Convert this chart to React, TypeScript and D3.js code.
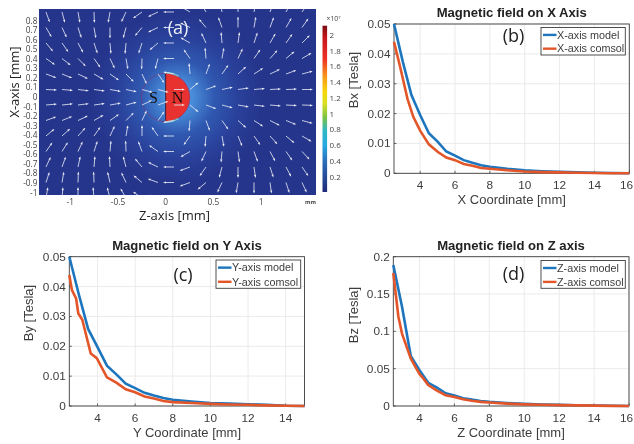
import React from "react";
import * as d3 from "d3";

// ---------- panel (a) data ----------
const zTicks = [-1, -0.5, 0, 0.5, 1];
const xTicks = [0.8, 0.7, 0.6, 0.5, 0.4, 0.3, 0.2, 0.1, 0, -0.1, -0.2, -0.3, -0.4, -0.5, -0.6, -0.7, -0.8, -0.9, -1];
const colorTicks = [2, 1.8, 1.6, 1.4, 1.2, 1, 0.8, 0.6, 0.4, 0.2];
const jetStops: [number, string][] = [
  [0, "#7a0c12"], [0.07, "#c4161c"], [0.2, "#ee3124"], [0.3, "#f7941d"], [0.4, "#f5d90a"],
  [0.47, "#d8e021"], [0.55, "#7dc242"], [0.63, "#2fb7c4"], [0.72, "#27a9e1"], [0.82, "#2b6cb8"], [1, "#1e2a78"],
];
// arrow direction in degrees (0 = right, 90 = up), one row per field row, 17 columns
const fieldAngles: number[][] = [
  [-70, -75, -80, -88, -100, -115, -145, -155, 180, 150, 120, 100, 90, 80, 70, 62, 55],
  [-60, -65, -72, -80, -90, -105, -130, -155, 180, 155, 130, 110, 90, 80, 70, 60, 55],
  [-50, -55, -62, -72, -85, -95, -108, -140, 180, 150, 115, 95, 82, 72, 60, 55, 45],
  [-35, -38, -45, -55, -65, -80, -92, -105, 180, 125, 95, 80, 65, 55, 48, 40, 30],
  [-20, -22, -25, -30, -35, -45, -65, -55, 170, 95, 70, 55, 42, 33, 25, 20, 15],
  [-3, -5, -7, -8, -10, -12, -15, -15, 0, 40, 20, 12, 8, 5, 3, 2, 0],
  [5, 6, 7, 8, 10, 15, 25, 20, 0, -40, -20, -15, -10, -7, -5, -3, -2],
  [20, 22, 25, 30, 35, 45, 65, 55, -170, -95, -70, -55, -42, -33, -27, -22, -15],
  [40, 42, 48, 55, 65, 80, 90, 125, 180, -125, -95, -80, -68, -55, -48, -40, -30],
  [55, 58, 65, 72, 85, 92, 110, 145, 180, -150, -115, -95, -82, -70, -62, -55, -47],
  [65, 70, 78, 85, 93, 105, 130, 155, 180, -160, -125, -105, -90, -82, -72, -62, -55],
  [72, 80, 88, 92, 103, 115, 140, 160, 180, -160, -140, -115, -100, -90, -82, -72, -65],
  [80, 85, 90, 95, 105, 120, 145, 165, 180, -165, -140, -120, -100, -90, -80, -70, -60],
];

// ---------- line panel data ----------
const xModelX = [2.5, 3, 3.5, 4, 4.5, 5, 5.5, 6, 6.5, 7, 7.5, 8, 9, 10, 11, 12, 13, 14, 15, 16];
const bxModel = [0.05, 0.0375, 0.0262, 0.0195, 0.0134, 0.0106, 0.0073, 0.0059, 0.0044, 0.0035, 0.0027, 0.0022, 0.0015, 0.001, 0.0007, 0.0005, 0.0003, 0.0002, 0.0001, 0];
const xComsolX = [2.5, 2.85, 3.27, 3.6, 4, 4.5, 5, 5.5, 6, 6.5, 7, 7.5, 8, 9, 10, 11, 12, 13, 14, 15, 16];
const bxComsol = [0.044, 0.0357, 0.025, 0.019, 0.0143, 0.0097, 0.0072, 0.0053, 0.0044, 0.0031, 0.0025, 0.0018, 0.0015, 0.001, 0.0006, 0.0004, 0.0003, 0.0002, 0.0001, 0, 0];

const yModelX = [2.5, 3, 3.5, 4, 4.5, 5, 5.5, 6, 6.5, 7, 7.5, 8, 9, 10, 11, 12, 13, 14, 15];
const byModel = [0.05, 0.0375, 0.0258, 0.0197, 0.0135, 0.0106, 0.0075, 0.006, 0.0044, 0.0035, 0.0027, 0.0021, 0.0015, 0.001, 0.0008, 0.0006, 0.0004, 0.0001, 0];
const yComsolX = [2.5, 2.64, 2.86, 2.98, 3.19, 3.64, 3.96, 4.5, 5, 5.5, 6, 6.5, 7, 7.5, 8, 9, 10, 11, 12, 13, 14, 15];
const byComsol = [0.0439, 0.0388, 0.036, 0.031, 0.0289, 0.0176, 0.016, 0.0096, 0.0078, 0.0056, 0.0046, 0.0032, 0.0025, 0.0017, 0.0013, 0.001, 0.0007, 0.0005, 0.0004, 0.0002, 0.0001, 0];

const zModelX = [2.5, 3, 3.5, 4, 4.5, 5, 5.5, 6, 6.5, 7, 7.5, 8, 9, 10, 11, 12, 13, 14, 15, 16];
const bzModel = [0.189, 0.133, 0.067, 0.048, 0.031, 0.0245, 0.017, 0.014, 0.0105, 0.0085, 0.0068, 0.0055, 0.004, 0.0028, 0.002, 0.0015, 0.001, 0.0006, 0.0003, 0];
const zComsolX = [2.5, 2.79, 3, 3.5, 3.75, 4, 4.25, 4.5, 5, 5.5, 6, 6.5, 7, 7.5, 8, 9, 10, 11, 12, 13, 14, 15, 16];
const bzComsol = [0.178, 0.12, 0.097, 0.0638, 0.053, 0.043, 0.036, 0.028, 0.0205, 0.0145, 0.012, 0.009, 0.007, 0.0055, 0.0046, 0.0032, 0.0022, 0.0016, 0.0012, 0.0008, 0.0005, 0.0002, 0];

const ticks4to16 = [4, 6, 8, 10, 12, 14, 16];
const ticks4to14 = [4, 6, 8, 10, 12, 14];
const ticks005 = [0, 0.01, 0.02, 0.03, 0.04, 0.05];
const ticks02 = [0, 0.05, 0.1, 0.15, 0.2];

const BLUE = "#1d76bd";
const ORANGE = "#e2562a";
const INK = "#3d3d3d";
const SANS = "'Liberation Sans', Arial, sans-serif";
const NOTO = "'Open Sans', 'Noto Sans', sans-serif";

type PanelProps = {
  left: number; right: number; top: number; bottom: number;
  xDomain: [number, number]; yDomain: [number, number];
  xt: number[]; yt: number[];
  model: [number[], number[]]; comsol: [number[], number[]];
  title: string; xLabel: string; yLabel: string; tag: string;
  names: [string, string];
  titleX: number; titleY: number; xLabelY: number;
  yLabelX: number; yLabelY: number;
  tagX: number; tagY: number;
  legend: [number, number, number, number];
};

function Panel(p: PanelProps) {
  const x = d3.scaleLinear().domain(p.xDomain).range([p.left, p.right]);
  const y = d3.scaleLinear().domain(p.yDomain).range([p.bottom, p.top]);
  const line = d3.line<[number, number]>().x((d) => x(d[0])).y((d) => y(d[1]));
  const pts = (s: [number[], number[]]) => s[0].map((v, i) => [v, s[1][i]] as [number, number]);
  const [lx0, lx1, ly0, ly1] = p.legend;
  const row1 = ly0 + (ly1 - ly0) * 0.27;
  const row2 = ly0 + (ly1 - ly0) * 0.77;
  return (
    <g fontFamily={SANS}>
      <rect x={p.left} y={p.top} width={p.right - p.left} height={p.bottom - p.top} fill="#fff" />
      {p.xt.map((t) => (
        <line key={t} x1={x(t)} x2={x(t)} y1={p.top} y2={p.bottom} stroke="#e6e6e6" strokeWidth={0.8} />
      ))}
      {p.yt.map((t) => (
        <line key={t} x1={p.left} x2={p.right} y1={y(t)} y2={y(t)} stroke="#e6e6e6" strokeWidth={0.8} />
      ))}
      <rect x={p.left} y={p.top} width={p.right - p.left} height={p.bottom - p.top} fill="none" stroke={INK} strokeWidth={0.9} />
      {p.xt.map((t) => (
        <g key={t}>
          <line x1={x(t)} x2={x(t)} y1={p.bottom} y2={p.bottom - 2.5} stroke={INK} strokeWidth={0.8} />
          <text x={Math.min(x(t), 626.5)} y={p.bottom + 16} fontSize={11.8} textAnchor="middle" fill={INK}>{t}</text>
        </g>
      ))}
      {p.yt.map((t) => (
        <g key={t}>
          <line x1={p.left} x2={p.left + 2.5} y1={y(t)} y2={y(t)} stroke={INK} strokeWidth={0.8} />
          <text x={p.left - 3.5} y={y(t) + 4} fontSize={11.8} textAnchor="end" fill={INK}>{t}</text>
        </g>
      ))}
      <path d={line(pts(p.model)) ?? ""} fill="none" stroke={BLUE} strokeWidth={2.6} />
      <path d={line(pts(p.comsol)) ?? ""} fill="none" stroke={ORANGE} strokeWidth={2.6} />
      <text x={p.titleX} y={p.titleY} fontSize={13.1} fontWeight="bold" textAnchor="middle" fill="#222">{p.title}</text>
      <text x={p.titleX} y={p.xLabelY} fontSize={13} textAnchor="middle" fill={INK}>{p.xLabel}</text>
      <text transform={`translate(${p.yLabelX},${p.yLabelY}) rotate(-90)`} fontSize={13} textAnchor="middle" fill={INK}>{p.yLabel}</text>
      <text x={p.tagX} y={p.tagY} fontSize={18} textAnchor="middle" fill="#222" fontFamily={NOTO}>{p.tag}</text>
      <rect x={lx0} y={ly0} width={lx1 - lx0} height={ly1 - ly0} fill="#fff" stroke={INK} strokeWidth={0.9} />
      <line x1={lx0 + 2} x2={lx0 + 15.5} y1={row1} y2={row1} stroke={BLUE} strokeWidth={2.4} />
      <line x1={lx0 + 2} x2={lx0 + 15.5} y1={row2} y2={row2} stroke={ORANGE} strokeWidth={2.4} />
      <text x={lx0 + 16} y={row1 + 3.8} fontSize={10.8} fill={INK}>{p.names[0]}</text>
      <text x={lx0 + 16} y={row2 + 3.8} fontSize={10.8} fill={INK}>{p.names[1]}</text>
    </g>
  );
}

function FieldPanel() {
  const left = 39, right = 316, top = 9, bottom = 195;
  const z = d3.scaleLinear().domain([-1, 1]).range([70.3, 261]);
  const xAxis = d3.scaleLinear().domain([0.8, -1]).range([20.7, 192.7]);
  const col = d3.scaleLinear().domain([0, 16]).range([46, 302]);
  const row = d3.scaleLinear().domain([0, 12]).range([12, 198]);
  const cz = z(0), cy = xAxis(0) + 0.3;
  const r = 24.2;
  const cb = d3.scaleLinear().domain([2, 0.2]).range([35, 176.7]);
  const cbTop = 25.7, cbBottom = 192;
  const arc = d3.arc();
  const north = arc({ innerRadius: 0, outerRadius: r, startAngle: 0, endAngle: Math.PI } as any) ?? "";
  const rimTop = arc({ innerRadius: r - 0.3, outerRadius: r + 1.2, startAngle: 0.02, endAngle: 0.55 } as any) ?? "";
  const rimBottom = arc({ innerRadius: r - 0.3, outerRadius: r + 1.2, startAngle: Math.PI - 0.55, endAngle: Math.PI - 0.02 } as any) ?? "";
  const L = 11;
  return (
    <g>
      <defs>
        <clipPath id="fieldClip"><rect x={left} y={top} width={right - left} height={bottom - top} /></clipPath>
        <radialGradient id="glow" gradientUnits="userSpaceOnUse" cx={cz + 12} cy={cy} r={85}>
          <stop offset="0" stopColor="#5aa0e2" />
          <stop offset="0.16" stopColor="#4a90dc" />
          <stop offset="0.44" stopColor="#3058b0" />
          <stop offset="0.73" stopColor="#29409a" />
          <stop offset="1" stopColor="#26358c" />
        </radialGradient>
        <linearGradient id="jet" x1="0" y1="0" x2="0" y2="1">
          {jetStops.map(([o, c]) => <stop key={o} offset={o} stopColor={c} />)}
        </linearGradient>
      </defs>
      <rect x={left} y={top} width={right - left} height={bottom - top} fill="#26358c" />
      <rect x={left} y={top} width={right - left} height={bottom - top} fill="url(#glow)" />
      <g clipPath="url(#fieldClip)">
        <path d={north} transform={`translate(${cz},${cy})`} fill="#e8322f" />
        <path d={rimTop} transform={`translate(${cz},${cy})`} fill="#7fe3e0" />
        <path d={rimBottom} transform={`translate(${cz},${cy})`} fill="#7fe3e0" />
        <circle cx={cz} cy={cy} r={r} fill="none" stroke="#8a2a6a" strokeWidth={0.7} opacity={0.75} />
        <line x1={cz} x2={cz} y1={cy - r} y2={cy + r} stroke="#3a1a30" strokeWidth={0.9} />
        <text x={153.5} y={103} fontSize={16} fontFamily="'Liberation Serif', serif" textAnchor="middle" fill="#111">S</text>
        <text x={177.5} y={103} fontSize={16} fontFamily="'Liberation Serif', serif" textAnchor="middle" fill="#111">N</text>
        {fieldAngles.map((angles, j) =>
          angles.map((deg, i) => {
            const a = (deg * Math.PI) / 180;
            const x0 = col(i), y0 = row(j);
            const x1 = x0 + L * Math.cos(a), y1 = y0 - L * Math.sin(a);
            const hx = x1 - 3 * Math.cos(a), hy = y1 + 3 * Math.sin(a);
            const nx = Math.sin(a) * 1.1, ny = Math.cos(a) * 1.1;
            return (
              <g key={`${j}-${i}`} opacity={0.92}>
                <line x1={x0} y1={y0} x2={hx} y2={hy} stroke="#e4e9f5" strokeWidth={0.9} />
                <polygon points={`${x1},${y1} ${hx + nx},${hy + ny} ${hx - nx},${hy - ny}`} fill="#fff" />
              </g>
            );
          })
        )}
      </g>
      <text x={178} y={34} fontSize={18} fontFamily={NOTO} textAnchor="middle" fill="#eef2fb">(a)</text>
      {xTicks.map((t) => (
        <text key={t} x={37.5} y={xAxis(t) + 2.9} fontSize={8.3} textAnchor="end" fill="#444" fontFamily={NOTO}>{t}</text>
      ))}
      {zTicks.map((t) => (
        <text key={t} x={z(t)} y={204.5} fontSize={8.3} textAnchor="middle" fill="#444" fontFamily={NOTO}>{t}</text>
      ))}
      <text x={310.5} y={204} fontSize={5.6} fontWeight="bold" textAnchor="middle" fill="#444" fontFamily={NOTO}>mm</text>
      <text x={174.5} y={220} fontSize={13} textAnchor="middle" fill="#222" fontFamily={NOTO}>Z-axis [mm]</text>
      <text transform="translate(19,82) rotate(-90)" fontSize={13} textAnchor="middle" fill="#222" fontFamily={NOTO}>X-axis [mm]</text>
      <rect x={322.5} y={cbTop} width={4.6} height={cbBottom - cbTop} fill="url(#jet)" />
      {colorTicks.map((t) => (
        <text key={t} x={329.5} y={cb(t) + 2.8} fontSize={8} fill="#444" fontFamily={NOTO}>{t}</text>
      ))}
      <text x={326.5} y={21} fontSize={6.8} fill="#444" fontFamily={NOTO}>×10<tspan dy={-2} fontSize={4}>7</tspan></text>
    </g>
  );
}

export default function App() {
  return (
    <svg
      width={634}
      height={444}
      viewBox="0 0 634 444"
      style={{ position: "absolute", left: 0, top: 0, background: "#fff", filter: "blur(0.45px)" }}
    >
      <FieldPanel />
      <Panel
        left={394} right={629.3} top={24} bottom={173.3}
        xDomain={[2.5, 16]} yDomain={[0, 0.05]} xt={ticks4to16} yt={ticks005}
        model={[xModelX, bxModel]} comsol={[xComsolX, bxComsol]}
        title="Magnetic field on X Axis" xLabel="X Coordinate [mm]" yLabel="Bx [Tesla]" tag="(b)"
        names={["X-axis model", "X-axis comsol"]}
        titleX={511.7} titleY={17} xLabelY={204} yLabelX={358} yLabelY={80}
        tagX={513.5} tagY={42} legend={[541, 625.3, 27.5, 55]}
      />
      <Panel
        left={69.3} right={304.5} top={256.7} bottom={406}
        xDomain={[2.5, 15]} yDomain={[0, 0.05]} xt={ticks4to14} yt={ticks005}
        model={[yModelX, byModel]} comsol={[yComsolX, byComsol]}
        title="Magnetic field on Y Axis" xLabel="Y Coordinate [mm]" yLabel="By [Tesla]" tag="(c)"
        names={["Y-axis model", "Y-axis comsol"]}
        titleX={187} titleY={250} xLabelY={437} yLabelX={33} yLabelY={313}
        tagX={183} tagY={281} legend={[216, 300.7, 260, 288.3]}
      />
      <Panel
        left={393.3} right={629} top={256.7} bottom={406}
        xDomain={[2.5, 16]} yDomain={[0, 0.2]} xt={ticks4to16} yt={ticks02}
        model={[zModelX, bzModel]} comsol={[zComsolX, bzComsol]}
        title="Magnetic field on Z axis" xLabel="Z Coordinate [mm]" yLabel="Bz [Tesla]" tag="(d)"
        names={["Z-axis model", "Z-axis comsol"]}
        titleX={511} titleY={250} xLabelY={437} yLabelX={358} yLabelY={315}
        tagX={513.5} tagY={280} legend={[541, 625.3, 260.5, 288.3]}
      />
    </svg>
  );
}
